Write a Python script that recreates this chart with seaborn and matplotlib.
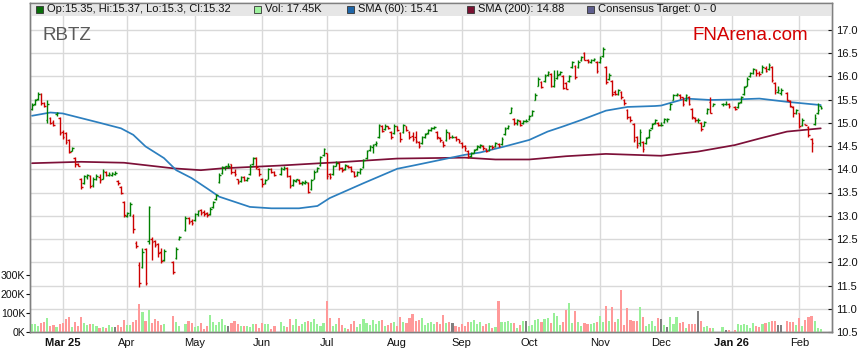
import matplotlib
matplotlib.use("Agg")
import matplotlib.pyplot as plt
import seaborn as sns
import numpy as np
import pandas as pd
from matplotlib.patches import Rectangle
from matplotlib.ticker import FormatStrFormatter

# trading calendar (ASX holidays dropped)
first_day, last_day = "2025-02-17", "2026-02-11"
holidays = ["2025-04-18", "2025-04-21", "2025-04-25", "2025-06-09",
            "2025-12-25", "2025-12-26", "2026-01-01", "2026-01-26"]

# daily OHLC, one line per month (Feb-25 .. Feb-26)
opens = [
    15.30, 15.40, 15.52, 15.62, 15.42, 15.05, 15.10, 15.02, 15.18, 15.10,
    14.80, 14.78, 14.62, 14.40, 14.24, 14.12, 13.80, 13.70, 13.84, 13.85, 13.66, 13.78, 13.84, 13.80, 13.95, 13.88, 13.88, 13.90, 13.75, 13.62, 13.30,
    13.00, 13.02, 13.00, 12.42, 11.95, 11.90, 12.28, 12.45, 12.50, 12.46, 12.40, 12.22, 12.05, 12.00, 12.10, 12.50, 12.70, 12.95, 12.88,
    12.90, 13.04, 13.12, 13.08, 13.06, 13.04, 13.18, 13.36, 13.72, 13.92, 14.04, 14.06, 14.12, 13.94, 13.78, 13.74, 13.84, 13.76, 13.90, 14.12, 14.24, 14.00,
    13.80, 13.70, 13.80, 14.00, 13.94, 13.90, 14.00, 14.02, 13.86, 13.66, 13.74, 13.76, 13.70, 13.70, 13.70, 13.58, 13.80, 13.96, 14.10, 14.30,
    14.34, 13.90, 13.90, 14.08, 14.14, 14.02, 14.00, 14.08, 14.04, 13.94, 13.88, 13.94, 14.04, 14.24, 14.42, 14.48, 14.54, 14.70, 14.92, 14.86, 14.92, 14.80, 14.78,
    14.92, 14.78, 14.80, 14.92, 14.80, 14.72, 14.70, 14.58, 14.56, 14.70, 14.78, 14.84, 14.88, 14.80, 14.68, 14.58, 14.62, 14.78, 14.70, 14.70, 14.64,
    14.56, 14.50, 14.40, 14.28, 14.36, 14.44, 14.48, 14.50, 14.44, 14.42, 14.50, 14.50, 14.54, 14.54, 14.76, 14.88, 15.22, 15.08, 15.00, 15.04, 15.00, 15.04,
    15.08, 15.16, 15.50, 15.80, 15.88, 15.90, 16.02, 16.04, 15.80, 15.96, 16.04, 16.00, 15.86, 15.90, 16.20, 16.22, 16.20, 16.34, 16.50, 16.36, 16.30, 16.34, 16.30,
    16.30, 16.44, 16.20, 15.94, 15.90, 15.66, 15.62, 15.66, 15.50, 15.28, 15.12, 14.98, 14.70, 14.56, 14.58, 14.56, 14.70, 14.88, 15.00, 15.00,
    14.96, 15.02, 15.06, 15.30, 15.50, 15.60, 15.60, 15.55, 15.48, 15.56, 15.30, 15.10, 15.06, 15.00, 14.94, 15.20, 15.45, 15.36, 15.40, 15.40, 15.40,
    15.34, 15.34, 15.44, 15.62, 15.80, 16.00, 16.06, 16.14, 16.08, 16.10, 16.18, 16.16, 16.20, 15.86, 15.66, 15.64, 15.64, 15.46, 15.34, 15.20,
    15.20, 14.96, 14.98, 14.90, 14.66, 14.98, 15.20, 15.35,
]
highs = [
    15.42, 15.52, 15.67, 15.64, 15.45, 15.48, 15.12, 15.05, 15.24, 15.12,
    14.84, 14.80, 14.66, 14.48, 14.26, 14.14, 13.82, 13.88, 13.90, 13.87, 13.84, 13.90, 13.90, 14.00, 13.96, 13.94, 13.95, 13.97, 13.76, 13.64, 13.32,
    13.08, 13.30, 13.04, 12.46, 12.00, 12.30, 12.30, 13.20, 12.54, 12.48, 12.42, 12.30, 12.28, 12.02, 12.32, 12.56, 13.00, 12.98, 12.92,
    13.06, 13.12, 13.14, 13.12, 13.08, 13.18, 13.32, 13.46, 13.92, 14.08, 14.08, 14.14, 14.12, 14.00, 13.80, 13.86, 13.86, 13.84, 14.12, 14.26, 14.26, 14.02,
    13.82, 13.78, 14.02, 14.02, 13.96, 14.04, 14.06, 14.04, 13.88, 13.78, 13.80, 13.78, 13.74, 13.76, 13.72, 13.78, 13.98, 14.04, 14.28, 14.46,
    14.36, 13.92, 14.10, 14.18, 14.16, 14.04, 14.12, 14.10, 14.06, 13.96, 13.96, 14.02, 14.22, 14.42, 14.52, 14.54, 14.60, 14.98, 14.96, 14.98, 14.94, 14.82, 14.98,
    14.94, 14.80, 14.98, 14.94, 14.82, 14.80, 14.82, 14.60, 14.72, 14.78, 14.86, 14.90, 14.92, 14.82, 14.70, 14.60, 14.86, 14.80, 14.74, 14.72, 14.66,
    14.58, 14.52, 14.42, 14.38, 14.44, 14.52, 14.54, 14.52, 14.46, 14.52, 14.52, 14.58, 14.56, 14.70, 14.90, 14.95, 15.34, 15.10, 15.08, 15.06, 15.06, 15.08,
    15.16, 15.28, 15.64, 15.98, 15.90, 16.04, 16.12, 16.06, 16.14, 16.14, 16.12, 16.02, 15.88, 16.02, 16.32, 16.24, 16.34, 16.44, 16.52, 16.38, 16.38, 16.40, 16.32,
    16.44, 16.62, 16.22, 16.06, 15.92, 15.70, 15.72, 15.68, 15.52, 15.30, 15.14, 15.00, 14.72, 14.86, 14.60, 14.70, 14.86, 15.00, 15.08, 15.02,
    15.02, 15.10, 15.10, 15.42, 15.62, 15.64, 15.62, 15.56, 15.62, 15.58, 15.32, 15.12, 15.10, 15.02, 15.04, 15.32, 15.55, 15.42, 15.42, 15.46, 15.42,
    15.36, 15.44, 15.58, 15.78, 15.98, 16.10, 16.18, 16.16, 16.12, 16.24, 16.22, 16.28, 16.22, 15.88, 15.80, 15.74, 15.66, 15.48, 15.36, 15.30,
    15.22, 15.10, 14.98, 14.92, 14.68, 15.18, 15.42, 15.37,
]
lows = [
    15.28, 15.38, 15.50, 15.38, 15.33, 15.00, 14.97, 14.93, 15.15, 14.74,
    14.66, 14.55, 14.34, 14.40, 14.04, 14.06, 13.58, 13.68, 13.80, 13.60, 13.62, 13.76, 13.70, 13.78, 13.86, 13.86, 13.85, 13.88, 13.66, 13.46, 12.98,
    12.98, 13.00, 12.62, 12.30, 11.47, 11.88, 11.52, 12.40, 12.05, 12.33, 12.12, 11.98, 12.02, 11.74, 12.08, 12.48, 12.68, 12.82, 12.80,
    12.88, 13.00, 13.02, 13.00, 12.98, 13.02, 13.16, 13.34, 13.70, 13.90, 13.98, 14.02, 13.90, 13.86, 13.68, 13.72, 13.74, 13.74, 13.88, 14.10, 14.00, 13.86,
    13.62, 13.68, 13.78, 13.92, 13.86, 13.88, 13.98, 13.84, 13.60, 13.64, 13.72, 13.68, 13.66, 13.68, 13.48, 13.56, 13.78, 13.94, 14.08, 14.28,
    13.80, 13.80, 13.88, 14.06, 13.98, 13.94, 13.98, 14.02, 13.94, 13.84, 13.86, 13.90, 14.02, 14.22, 14.40, 14.36, 14.50, 14.68, 14.80, 14.84, 14.86, 14.66, 14.76,
    14.82, 14.58, 14.78, 14.82, 14.66, 14.60, 14.56, 14.46, 14.54, 14.68, 14.76, 14.82, 14.86, 14.66, 14.58, 14.48, 14.60, 14.66, 14.68, 14.60, 14.56,
    14.46, 14.40, 14.24, 14.26, 14.34, 14.42, 14.46, 14.42, 14.38, 14.40, 14.44, 14.48, 14.48, 14.52, 14.74, 14.86, 15.20, 14.96, 14.96, 14.94, 14.98, 15.02,
    15.06, 15.14, 15.48, 15.78, 15.74, 15.88, 16.00, 15.76, 15.76, 15.94, 16.02, 15.72, 15.72, 15.88, 16.18, 15.94, 16.18, 16.32, 16.34, 16.28, 16.28, 16.32, 16.08,
    16.28, 16.42, 15.84, 15.92, 15.58, 15.60, 15.60, 15.52, 15.38, 15.08, 15.02, 14.58, 14.46, 14.50, 14.38, 14.54, 14.68, 14.86, 14.98, 14.92,
    14.94, 15.00, 15.02, 15.28, 15.48, 15.58, 15.52, 15.36, 15.46, 15.38, 15.08, 15.02, 15.00, 14.82, 14.92, 15.18, 15.20, 15.36, 15.36, 15.38, 15.32,
    15.28, 15.32, 15.42, 15.60, 15.78, 15.98, 16.04, 16.00, 16.00, 16.08, 16.10, 16.14, 15.88, 15.62, 15.64, 15.60, 15.46, 15.34, 15.12, 15.18,
    14.88, 14.94, 14.96, 14.70, 14.38, 14.96, 15.18, 15.30,
]
closes = [
    15.38, 15.50, 15.62, 15.42, 15.36, 15.40, 15.00, 14.96, 15.22, 14.78,
    14.70, 14.58, 14.38, 14.46, 14.12, 14.08, 13.62, 13.85, 13.88, 13.64, 13.80, 13.86, 13.76, 13.96, 13.88, 13.90, 13.93, 13.93, 13.70, 13.50, 13.02,
    13.05, 13.26, 12.72, 12.36, 11.55, 12.22, 11.56, 13.18, 12.44, 12.38, 12.20, 12.02, 12.24, 11.80, 12.28, 12.55, 12.95, 12.86, 12.84,
    13.04, 13.10, 13.06, 13.04, 13.02, 13.14, 13.30, 13.44, 13.88, 14.04, 14.06, 14.06, 13.94, 13.90, 13.72, 13.84, 13.76, 13.82, 14.08, 14.24, 14.04, 13.90,
    13.68, 13.76, 14.00, 13.95, 13.88, 14.02, 14.03, 13.86, 13.64, 13.76, 13.78, 13.70, 13.72, 13.73, 13.52, 13.76, 13.95, 14.02, 14.26, 14.44,
    13.86, 13.84, 14.06, 14.14, 14.02, 13.98, 14.10, 14.05, 13.96, 13.86, 13.94, 14.00, 14.20, 14.40, 14.50, 14.52, 14.56, 14.95, 14.82, 14.94, 14.88, 14.70, 14.94,
    14.85, 14.64, 14.95, 14.84, 14.70, 14.66, 14.60, 14.50, 14.70, 14.76, 14.84, 14.88, 14.90, 14.70, 14.62, 14.52, 14.80, 14.70, 14.70, 14.66, 14.60,
    14.50, 14.46, 14.28, 14.36, 14.42, 14.50, 14.52, 14.45, 14.40, 14.50, 14.48, 14.56, 14.50, 14.66, 14.86, 14.92, 15.32, 15.00, 15.05, 14.96, 15.04, 15.04,
    15.14, 15.26, 15.60, 15.94, 15.76, 16.00, 16.10, 15.78, 15.92, 16.02, 16.10, 15.74, 15.73, 16.00, 16.30, 15.98, 16.30, 16.42, 16.36, 16.32, 16.36, 16.38, 16.12,
    16.40, 16.58, 15.88, 16.02, 15.62, 15.61, 15.70, 15.56, 15.42, 15.12, 15.06, 14.62, 14.52, 14.80, 14.44, 14.68, 14.84, 14.98, 15.05, 14.96,
    14.96, 15.08, 15.08, 15.40, 15.60, 15.62, 15.55, 15.40, 15.60, 15.40, 15.12, 15.05, 15.05, 14.86, 15.02, 15.30, 15.22, 15.40, 15.41, 15.41, 15.36,
    15.30, 15.42, 15.56, 15.76, 15.95, 16.06, 16.15, 16.06, 16.04, 16.20, 16.12, 16.24, 15.92, 15.70, 15.70, 15.70, 15.50, 15.36, 15.20, 15.28,
    14.92, 15.06, 14.96, 14.74, 14.56, 15.10, 15.28, 15.32,
]
# daily volume, thousands of units
volumes = [
    44, 44, 33, 49, 54, 74, 33, 39, 28, 44,
    49, 70, 79, 28, 54, 33, 79, 49, 39, 44, 44, 33, 23, 25, 21, 37, 28, 28, 37, 28, 65,
    39, 39, 54, 61, 149, 107, 60, 118, 49, 70, 60, 39, 44, 86, 54, 33, 44, 60, 49,
    25, 33, 49, 18, 33, 91, 54, 39, 54, 70, 39, 33, 49, 56, 44, 33, 33, 33, 28, 44, 44, 23,
    49, 44, 44, 18, 33, 54, 33, 28, 70, 39, 70, 33, 44, 54, 60, 54, 70, 44, 33, 49,
    165, 75, 33, 44, 75, 39, 23, 18, 44, 60, 28, 44, 70, 49, 39, 65, 44, 60, 65, 33, 39, 49, 54,
    33, 81, 54, 49, 75, 96, 60, 65, 75, 39, 49, 54, 44, 54, 44, 91, 49, 54, 49, 33, 28,
    44, 33, 54, 54, 65, 44, 54, 33, 44, 49, 23, 28, 165, 54, 54, 60, 49, 49, 23, 39, 60, 60,
    33, 39, 65, 70, 54, 70, 75, 49, 102, 86, 39, 54, 118, 154, 49, 112, 54, 33, 49, 44, 44, 49, 54,
    86, 54, 139, 60, 133, 54, 70, 223, 39, 128, 65, 60, 60, 133, 81, 33, 44, 60, 33, 75,
    70, 39, 28, 81, 44, 81, 49, 54, 23, 44, 44, 44, 112, 60, 28, 33, 23, 23, 28, 12, 12,
    12, 44, 39, 44, 39, 23, 49, 33, 28, 44, 49, 54, 60, 60, 39, 39, 60, 54, 54, 39,
    75, 33, 65, 81, 86, 60, 23, 18,
]

sma60_dates = ["2025-02-17", "2025-02-25", "2025-03-03", "2025-03-11", "2025-03-14", "2025-03-19",
               "2025-03-28", "2025-04-03", "2025-04-09", "2025-04-17", "2025-04-23", "2025-04-30",
               "2025-05-07", "2025-05-13", "2025-05-20", "2025-05-27", "2025-06-05", "2025-06-18",
               "2025-06-26", "2025-07-02", "2025-07-17", "2025-08-01", "2025-08-11", "2025-08-21",
               "2025-09-02", "2025-09-09", "2025-09-19", "2025-10-01", "2025-10-09", "2025-10-16",
               "2025-10-24", "2025-11-05", "2025-11-14", "2025-11-27", "2025-12-01", "2025-12-11",
               "2025-12-23", "2026-01-02", "2026-01-14", "2026-01-27", "2026-02-11"]
sma60 = [15.15, 15.22, 15.20, 15.10, 15.05, 15.00,
         14.88, 14.74, 14.49, 14.24, 13.98, 13.81,
         13.59, 13.41, 13.30, 13.19, 13.16, 13.16,
         13.21, 13.38, 13.70, 14.01, 14.09, 14.20,
         14.31, 14.36, 14.49, 14.63, 14.81, 14.92,
         15.06, 15.26, 15.34, 15.36, 15.37, 15.52,
         15.49, 15.50, 15.52, 15.45, 15.38]
sma200_dates = ["2025-02-17", "2025-03-11", "2025-03-31", "2025-04-22", "2025-05-05", "2025-05-14",
                "2025-06-10", "2025-06-27", "2025-07-07", "2025-08-01", "2025-09-02", "2025-09-16",
                "2025-10-01", "2025-10-17", "2025-11-05", "2025-12-01", "2025-12-17", "2026-01-02",
                "2026-01-14", "2026-01-27", "2026-02-11"]
sma200 = [14.13, 14.16, 14.14, 14.02, 13.98, 14.02,
          14.08, 14.13, 14.15, 14.23, 14.25, 14.21,
          14.21, 14.28, 14.33, 14.29, 14.38, 14.52,
          14.66, 14.81, 14.88]

month_labels = ["Mar 25", "Apr", "May", "Jun", "Jul", "Aug", "Sep", "Oct", "Nov", "Dec", "Jan 26", "Feb"]
month_starts = ["2025-03-01", "2025-04-01", "2025-05-01", "2025-06-01", "2025-07-01", "2025-08-01",
                "2025-09-01", "2025-10-01", "2025-11-01", "2025-12-01", "2026-01-01", "2026-02-01"]

legend_items = [("Op:15.35, Hi:15.37, Lo:15.3, Cl:15.32", "#0a6e0a", 36),
                ("Vol: 17.45K", "#9ef29e", 254),
                ("SMA (60): 15.41", "#1f66a8", 347),
                ("SMA (200): 14.88", "#7a1232", 467),
                ("Consensus Target: 0 - 0", "#5f5f8f", 587)]

# ---- positions on a weekday axis (holidays leave gaps) ----
weekdays = pd.bdate_range(first_day, last_day)
trade_days = weekdays.difference(pd.to_datetime(holidays))
x = weekdays.get_indexer(trade_days).astype(float)
to_x = lambda ds: weekdays.get_indexer(pd.to_datetime(ds)).astype(float)

df = pd.DataFrame({"x": x, "open": opens, "high": highs, "low": lows,
                   "close": closes, "vol": volumes})
chg = df["close"].diff().fillna(1)
df["dir"] = np.where(chg > 1e-9, "up", np.where(chg < -1e-9, "down", "flat"))

bar_col = {"up": "#008000", "flat": "#008000", "down": "#cc0000"}
vol_col = {"up": "#99f099", "flat": "#808080", "down": "#ff9999"}

sns.set_style("white")
plt.rcParams["font.family"] = ["Liberation Sans", "DejaVu Sans"]

W, H = 859, 363
fig = plt.figure(figsize=(W / 100, H / 100), dpi=100)
rect = [30 / W, (H - 332) / H, 801.5 / W, 329 / H]
ax = fig.add_axes(rect)
px_per_unit = 46.5
ax.set_xlim(-0.65, 260.5)
ax.set_ylim(10.5, 10.5 + 329 / px_per_unit)

ax.set_yticks(np.arange(10.5, 17.01, 0.5))
ax.yaxis.set_major_formatter(FormatStrFormatter("%.1f"))
ax.set_xticks([weekdays.searchsorted(pd.Timestamp(m)) for m in month_starts])
ax.set_xticklabels(month_labels)
for lab in ax.get_xticklabels():
    if lab.get_text() in ("Mar 25", "Jan 26"):
        lab.set_fontweight("bold")
ax.grid(True, color="#d9d9d9", lw=1)
ax.set_axisbelow(True)

# OHLC bars
cols = df["dir"].map(bar_col)
ax.vlines(df["x"], df["low"], df["high"], colors=cols, lw=1.0, zorder=4)
ax.hlines(df["open"], df["x"] - 0.55, df["x"], colors=cols, lw=1.0, zorder=4)
ax.hlines(df["close"], df["x"], df["x"] + 0.55, colors=cols, lw=1.0, zorder=4)

# moving averages
sns.lineplot(x=to_x(sma200_dates), y=sma200, color="#7d1038", lw=1.25, ax=ax, zorder=3)
sns.lineplot(x=to_x(sma60_dates), y=sma60, color="#2c7fbf", lw=1.25, ax=ax, zorder=3)
ax.set_xlabel("")
ax.set_ylabel("")

# legend band
band = 13 / 329
ax.add_patch(Rectangle((0, 1 - band), 1, band, transform=ax.transAxes,
                       facecolor="#e6e6e6", edgecolor="none", zorder=5))
ty = 1 - 9.5 / H
for label, colr, px in legend_items:
    fig.patches.append(Rectangle((px / W, 1 - 13 / H), 7 / W, 7 / H, transform=fig.transFigure,
                                 facecolor=colr, edgecolor="#333333", lw=0.6, zorder=6))
    fig.text((px + 11) / W, ty, label, fontsize=8, va="center", ha="left", color="#111111")

fig.text(42 / W, 1 - 39.5 / H, "RBTZ", fontsize=13.5, color="#5a5a5a", va="baseline")
fig.text(693 / W, 1 - 39.5 / H, "FNArena.com", fontsize=13.5, color="#d40000", va="baseline")

# volume on a twin axis
axv = ax.twinx()
axv.set_ylim(0, 329 / 19 * 100)
axv.bar(df["x"], df["vol"], width=0.7, color=df["dir"].map(vol_col), lw=0, zorder=2)
axv.set_yticks([0, 100, 200, 300])
axv.set_yticklabels(["0K", "100K", "200K", "300K"])
axv.yaxis.tick_left()
ax.yaxis.tick_right()
axv.grid(False)

for a in (ax, axv):
    for s in a.spines.values():
        s.set_color("#808080")
        s.set_linewidth(1)
ax.tick_params(axis="x", length=0, pad=4, labelsize=8, colors="#111111")
ax.tick_params(axis="y", which="both", right=True, left=False, direction="in",
               length=3, pad=3, labelsize=8, colors="#111111")
axv.tick_params(axis="y", left=True, right=False, direction="out", length=3, pad=0.5,
                labelsize=7.6, colors="#111111")
for lab in ax.get_yticklabels() + axv.get_yticklabels() + ax.get_xticklabels():
    lab.set_color("#111111")

fig.savefig("out.png", dpi=100)
